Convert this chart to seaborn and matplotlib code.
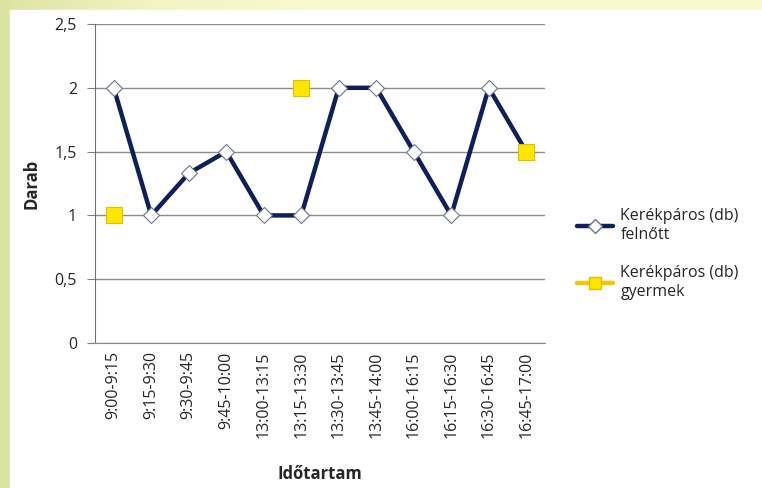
import numpy as np
import matplotlib
matplotlib.use("Agg")
import matplotlib.pyplot as plt
from matplotlib.lines import Line2D
from matplotlib.colors import LinearSegmentedColormap
import seaborn as sns
import pandas as pd

# idősávok és darabszámok
idotartam = ["9:00-9:15", "9:15-9:30", "9:30-9:45", "9:45-10:00",
             "13:00-13:15", "13:15-13:30", "13:30-13:45", "13:45-14:00",
             "16:00-16:15", "16:15-16:30", "16:30-16:45", "16:45-17:00"]
felnott = [2, 1, 1.33, 1.5, 1, 1, 2, 2, 1.5, 1, 2, 1.5]
gyermek = [1, None, None, None, None, 2, None, None, None, None, None, 1.5]
y_ticks = [0, 0.5, 1, 1.5, 2, 2.5]
y_tick_labels = ["0", "0,5", "1", "1,5", "2", "2,5"]

sns.set_style("white")
plt.rcParams['font.family'] = ['Open Sans', 'DejaVu Sans']

df = pd.DataFrame({"i": range(len(idotartam)), "felnott": felnott,
                   "gyermek": pd.to_numeric(pd.Series(gyermek), errors="coerce")})

fig = plt.figure(figsize=(7.62, 4.88), dpi=100)

# háttér: halvány sárga, bal oldalt zöldesebb színátmenet
bg = fig.add_axes([0, 0, 1, 1], zorder=-10)
grad = np.linspace(0, 1, 256)[None, :]
cmap = LinearSegmentedColormap.from_list("bg", ["#dce4a2", "#f2f5c4", "#f8f9cf"])
bg.imshow(grad, aspect="auto", cmap=cmap, extent=[0, 1, 0, 1], vmin=0, vmax=0.4)
bg.add_patch(plt.Rectangle((10 / 762, 0), 1, 1 - 10 / 488, color="white"))
bg.set_xlim(0, 1)
bg.set_ylim(0, 1)
bg.axis("off")

ax = fig.add_axes([95 / 762, 1 - 343 / 488, 450 / 762, 319 / 488])
ax.set_facecolor("white")

navy = "#0f1f5c"
yellow = "#ffe600"

sns.lineplot(data=df, x="i", y="felnott", ax=ax, color=navy, linewidth=3.2,
             marker="D", markersize=8, markerfacecolor="white",
             markeredgecolor="#6b7391", markeredgewidth=0.8, zorder=3)
sns.scatterplot(data=df, x="i", y="gyermek", ax=ax, marker="s", s=130,
                color=yellow, edgecolor="#e0c000", linewidth=0.8, zorder=4)

ax.set_xlim(-0.5, len(idotartam) - 0.5)
ax.set_ylim(0, 2.5)
ax.set_yticks(y_ticks)
ax.set_yticklabels(y_tick_labels, fontsize=11.5)
ax.set_xticks(range(len(idotartam)))
ax.set_xticklabels(idotartam, rotation=90, fontsize=11.5)
ax.tick_params(axis="y", length=6, color="#808080", direction="out", left=True, pad=7)
ax.tick_params(axis="x", length=0, pad=6)
ax.grid(axis="y", color="#8c8c8c", linewidth=1)
ax.set_axisbelow(True)
for s in ["top", "right"]:
    ax.spines[s].set_visible(False)
ax.spines["left"].set_color("#707070")
ax.spines["bottom"].set_color("#8c8c8c")
ax.set_ylabel("Darab", fontsize=12, fontweight="bold", labelpad=10)
ax.set_xlabel("Időtartam", fontsize=12, fontweight="bold", labelpad=20)

handles = [
    Line2D([], [], color=navy, linewidth=3.2, marker="D", markersize=7,
           markerfacecolor="white", markeredgecolor="#6b7391"),
    Line2D([], [], color="#f2c800", linewidth=3.2, marker="s", markersize=9,
           markerfacecolor=yellow, markeredgecolor="#e0c000"),
]
fig.legend(handles, ["Kerékpáros (db)\nfelnőtt", "Kerékpáros (db)\ngyermek"],
           loc="center left", bbox_to_anchor=(563 / 762, 1 - 254 / 488),
           frameon=False, fontsize=11.5, handlelength=2.2, labelspacing=1.4,
           handletextpad=0.5)

fig.savefig("out.png", dpi=100)
